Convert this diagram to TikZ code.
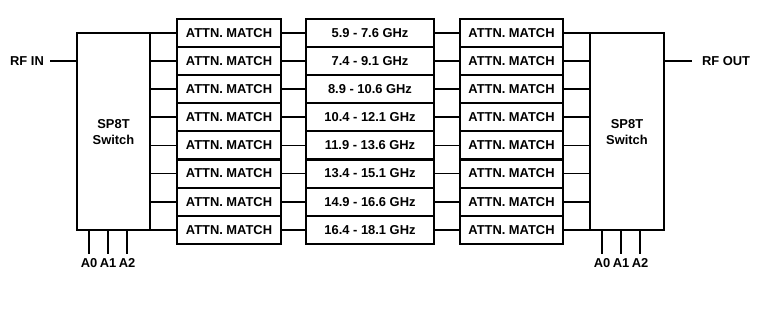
\documentclass[tikz,border=0pt]{standalone}
\usepackage{fontspec}
\setmainfont{Liberation Sans}
\begin{document}
\begin{tikzpicture}[x=1pt,y=-1pt,
  blk/.style={draw,line width=2pt,inner sep=0pt,minimum height=28pt,font=\bfseries\fontsize{12.9}{15}\selectfont},
  sw/.style={draw,line width=2pt,inner sep=0pt},
  wire/.style={line width=1.8pt},
  ctl/.style={line width=2.8pt},
  lbl/.style={inner sep=0pt,font=\bfseries\fontsize{12.9}{15}\selectfont}]
\useasboundingbox (0,0) rectangle (759,316);
% switches
\node[sw,minimum width=73pt,minimum height=197pt] (swL) at (113.5,131.5) {};
\node[sw,minimum width=74pt,minimum height=197pt] (swR) at (627,131.5) {};
\node[lbl,align=center] (swLt) at (113.5,132) {SP8T\\[1pt]Switch};
\node[lbl,align=center] (swRt) at (627,132) {SP8T\\[1pt]Switch};
% rows
\foreach \i/\f in {0/5.9 - 7.6 GHz,1/7.4 - 9.1 GHz,2/8.9 - 10.6 GHz,3/10.4 - 12.1 GHz,4/11.9 - 13.6 GHz,5/13.4 - 15.1 GHz,6/14.9 - 16.6 GHz,7/16.4 - 18.1 GHz}{
  \node[blk,minimum width=104pt] (aL\i) at (229,33+28.1*\i) {ATTN. MATCH};
  \node[blk,minimum width=128pt] (fq\i) at (370,33+28.1*\i) {\f};
  \node[blk,minimum width=103pt] (aR\i) at (511.5,33+28.1*\i) {ATTN. MATCH};
  \draw[wire] (swL.east |- aL\i.west) -- (aL\i.west);
  \draw[wire] (aL\i.east) -- (fq\i.west);
  \draw[wire] (fq\i.east) -- (aR\i.west);
  \draw[wire] (aR\i.east) -- (swR.west |- aR\i.east);
}
% RF in/out
\node[lbl] (rfin) at (27,61) {RF IN};
\coordinate (rfinE) at (50,61);
\draw[wire] (rfinE) -- (swL.west |- rfinE);
\node[lbl] (rfout) at (726,61) {RF OUT};
\coordinate (rfoutW) at (692,61);
\draw[wire] (swR.east |- rfoutW) -- (rfoutW);
% control lines
\foreach \n/\dx in {0/12,1/31,2/50}{
  \coordinate (cL\n) at (77+\dx,254);
  \draw[ctl] (swL.south west -| cL\n) -- (cL\n);
  \node[lbl,anchor=base] (tL\n) at (77+\dx,267.5) {A\n};
  \coordinate (cR\n) at (590+\dx,254);
  \draw[ctl] (swR.south west -| cR\n) -- (cR\n);
  \node[lbl,anchor=base] (tR\n) at (590+\dx,267.5) {A\n};
}
\end{tikzpicture}
\end{document}
